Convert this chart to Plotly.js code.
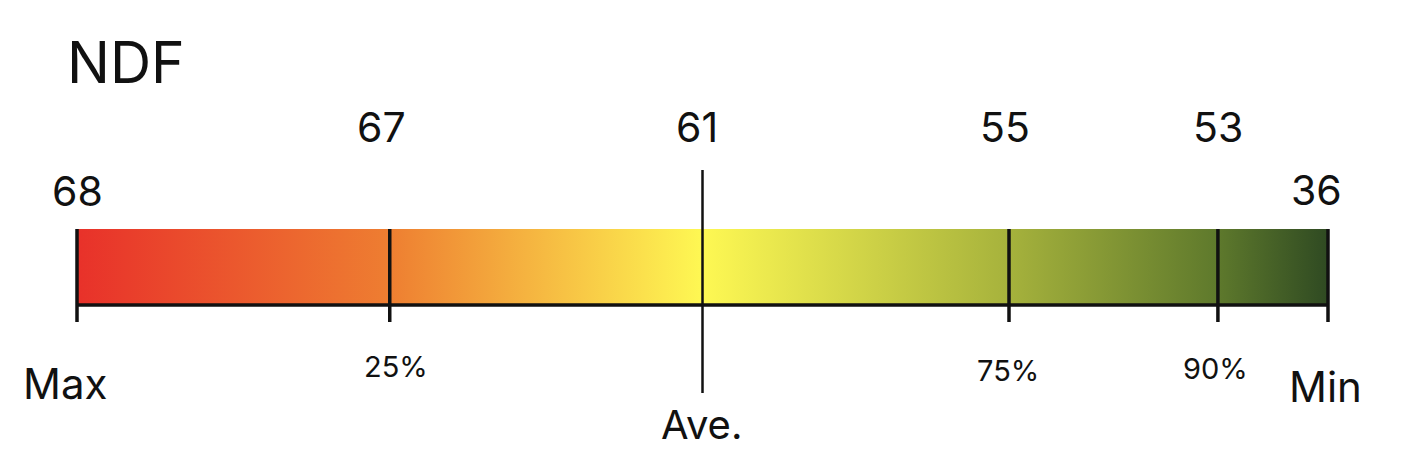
<!DOCTYPE html>
<html>
<head>
<meta charset="utf-8">
<script src="https://cdn.plot.ly/plotly-3.0.1.min.js"></script>
<style>
  html, body { margin: 0; padding: 0; background: #fff; }
  #chart { width: 1418px; height: 452px; }
</style>
</head>
<body>
<div id="chart"></div>
<script>
(function () {
    'use strict';

    // data
    const chartTitle = 'NDF';
    const percentiles = ['Max', '25%', 'Ave.', '75%', '90%', 'Min'];
    const positions = [0, 25, 50, 74.5, 91.2, 100];
    const values = [68, 67, 61, 55, 53, 36];
    const stopColors = ['#E8312A', '#EE7E31', '#FEF853', '#A6B23C', '#5E792C', '#2F4A22'];

    // layout: y is in pixels from the top, x is percent along the bar
    const barTop = 229, barBottom = 305, tickBottom = 322;
    const aveTop = 170, aveBottom = 393;
    const pxPerUnit = (1328 - 77) / 100;
    const xRange = [-77 / pxPerUnit, (1418 - 77) / pxPerUnit];

    const font = 'Inter, "Liberation Sans", sans-serif';
    const lo = positions[0], hi = positions[positions.length - 1];

    // gradient bar
    const bar = {
        x: [lo, hi, hi, lo, lo],
        y: [barTop, barTop, barBottom, barBottom, barTop],
        type: 'scatter',
        mode: 'none',
        fill: 'toself',
        fillgradient: {
            type: 'horizontal',
            colorscale: positions.map((p, i) => [(p - lo) / (hi - lo), stopColors[i]])
        },
        hoverinfo: 'skip',
        showlegend: false
    };

    const shapes = [];
    // bottom edge
    shapes.push({ type: 'line', xref: 'x', yref: 'y', x0: lo, x1: hi, y0: barBottom, y1: barBottom,
        line: { color: '#111', width: 3.5 } });
    positions.forEach((p, i) => {
        const isAve = percentiles[i] === 'Ave.';
        shapes.push({
            type: 'line', xref: 'x', yref: 'y',
            x0: p, x1: p,
            y0: isAve ? aveTop : barTop,
            y1: isAve ? aveBottom : tickBottom,
            line: { color: '#111', width: isAve ? 2.5 : 3.5 }
        });
    });

    // per label tweaks (pixels)
    const topY = [191, 127, 127, 127, 127, 190];
    const topShift = [0, -8, -6, -4, 0, -12];
    const botY = [383, 366, 424, 370, 368, 386];
    const botShift = [-12, 6, -1, -1, -2, -3];
    const botSize = [42, 29, 40, 29, 29, 42];

    const annotations = [{
        x: xRange[0], y: 62, xref: 'x', yref: 'y',
        xanchor: 'left', yanchor: 'middle', xshift: 65,
        text: chartTitle, showarrow: false,
        font: { family: font, size: 57, color: '#111' }
    }];
    positions.forEach((p, i) => {
        annotations.push({
            x: p, y: topY[i], xref: 'x', yref: 'y',
            xanchor: 'center', yanchor: 'middle', xshift: topShift[i],
            text: String(values[i]), showarrow: false,
            font: { family: font, size: 41, color: '#111' }
        });
        annotations.push({
            x: p, y: botY[i], xref: 'x', yref: 'y',
            xanchor: 'center', yanchor: 'middle', xshift: botShift[i],
            text: percentiles[i], showarrow: false,
            font: { family: font, size: botSize[i], color: '#111' }
        });
    });

    const layout = {
        width: 1418,
        height: 452,
        margin: { l: 0, r: 0, t: 0, b: 0 },
        paper_bgcolor: '#fff',
        plot_bgcolor: '#fff',
        showlegend: false,
        xaxis: { range: xRange, visible: false, fixedrange: true },
        yaxis: { range: [452, 0], visible: false, fixedrange: true },
        shapes,
        annotations
    };

    window.Plotly.newPlot('chart', [bar], layout, { staticPlot: true, displayModeBar: false });
}());
</script>
</body>
</html>
